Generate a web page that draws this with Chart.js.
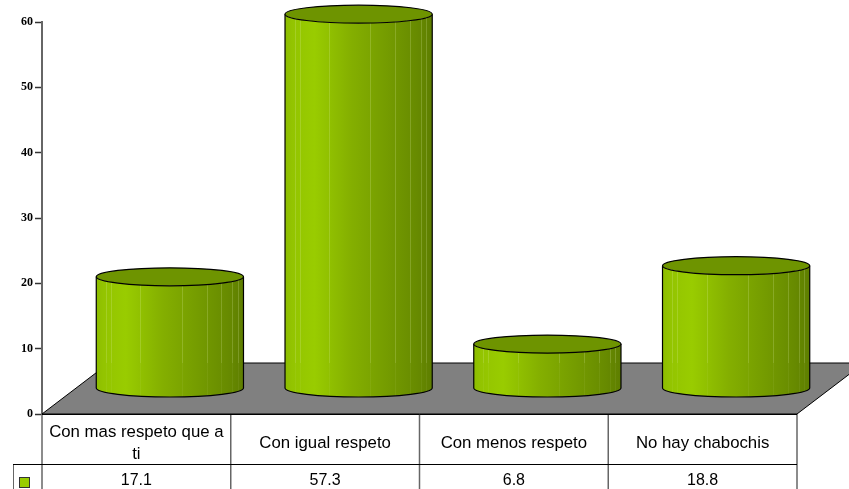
<!DOCTYPE html>
<html>
<head>
<meta charset="utf-8">
<style>html,body{margin:0;padding:0;background:#fff;overflow:hidden}canvas{display:block}</style>
<script src="https://cdn.jsdelivr.net/npm/chart.js@4"></script>
</head>
<body>
<canvas id="c" width="849" height="489"></canvas>
<script>
const categories = [["Con mas respeto que a", "ti"], "Con igual respeto", "Con menos respeto", "No hay chabochis"];
const values = [17.1, 57.3, 6.8, 18.8];
const yTicks = [0, 10, 20, 30, 40, 50, 60];

const depthX = 67, depthY = -51, ellipseRy = 9;
const bandStops = [[0,'#8DBD00'],[0.05,'#93C400'],[0.2,'#99CC00'],[0.45,'#84AF00'],[0.7,'#749B00'],[0.9,'#678A00'],[1,'#5E7E00']];
const streaks = [0.066, 0.1, 0.3, 0.58, 0.75, 0.85, 0.925, 0.96];

const scene = {
  id: 'scene',
  beforeDatasetsDraw(chart) {
    const {ctx, chartArea: a} = chart;
    ctx.save();
    ctx.beginPath();
    ctx.moveTo(a.left, a.bottom);
    ctx.lineTo(a.right, a.bottom);
    ctx.lineTo(a.right + depthX, a.bottom + depthY);
    ctx.lineTo(a.left + depthX, a.bottom + depthY);
    ctx.closePath();
    ctx.fillStyle = '#808080';
    ctx.fill();
    ctx.strokeStyle = '#000';
    ctx.lineWidth = 1;
    ctx.stroke();
    ctx.restore();
  },
  afterDatasetsDraw(chart) {
    const {ctx, chartArea: a} = chart;
    const bars = chart.getDatasetMeta(0).data;
    const floorBack = a.bottom + depthY;
    bars.forEach(bar => {
      const cx = bar.x + depthX / 2, r = bar.width / 2;
      const top = bar.y + depthY / 2, base = bar.base + depthY / 2;
      const L = cx - r;
      ctx.save();
      const g = ctx.createLinearGradient(L, 0, cx + r, 0);
      bandStops.forEach(s => g.addColorStop(s[0], s[1]));
      ctx.beginPath();
      ctx.moveTo(L, top);
      ctx.lineTo(L, base);
      ctx.ellipse(cx, base, r, ellipseRy, 0, Math.PI, 0, true);
      ctx.lineTo(cx + r, top);
      ctx.ellipse(cx, top, r, ellipseRy, 0, 0, Math.PI, false);
      ctx.closePath();
      ctx.fillStyle = g;
      ctx.fill();
      ctx.lineWidth = 1;
      streaks.forEach(f => {
        const x = Math.round(L + f * 2 * r) + 0.5;
        const dy = Math.sqrt(Math.max(0, 1 - Math.pow((x - cx) / r, 2))) * ellipseRy;
        ctx.strokeStyle = 'rgba(225,240,170,0.22)';
        ctx.beginPath();
        ctx.moveTo(x, top + dy);
        ctx.lineTo(x, Math.max(top + dy, floorBack));
        ctx.stroke();
        ctx.strokeStyle = 'rgba(225,240,170,0.07)';
        ctx.beginPath();
        ctx.moveTo(x, Math.max(top + dy, floorBack));
        ctx.lineTo(x, base + dy);
        ctx.stroke();
      });
      ctx.strokeStyle = '#000';
      ctx.lineWidth = 1.2;
      ctx.beginPath();
      ctx.moveTo(L, top);
      ctx.lineTo(L, base);
      ctx.ellipse(cx, base, r, ellipseRy, 0, Math.PI, 0, true);
      ctx.lineTo(cx + r, top);
      ctx.stroke();
      ctx.beginPath();
      ctx.ellipse(cx, top, r, ellipseRy, 0, 0, Math.PI * 2);
      ctx.fillStyle = '#6E9400';
      ctx.fill();
      ctx.stroke();
      ctx.restore();
    });
    drawTable(chart);
  }
};

function drawTable(chart) {
  const {ctx, chartArea: a, scales: {x}} = chart;
  const rowY = a.bottom + 50, end = chart.height;
  const step = (a.right - a.left) / categories.length;
  ctx.save();
  ctx.strokeStyle = '#666';
  ctx.lineWidth = 1.5;
  for (let i = 0; i <= categories.length; i++) {
    const lx = a.left + i * step;
    ctx.beginPath(); ctx.moveTo(lx, a.bottom); ctx.lineTo(lx, end); ctx.stroke();
  }
  ctx.beginPath(); ctx.moveTo(13.5, rowY); ctx.lineTo(13.5, end); ctx.lineWidth = 1; ctx.stroke();
  ctx.strokeStyle = '#000';
  ctx.beginPath(); ctx.moveTo(13, rowY + 0.5); ctx.lineTo(a.right, rowY + 0.5); ctx.stroke();
  ctx.beginPath(); ctx.moveTo(a.left, a.bottom + 0.5); ctx.lineTo(a.right, a.bottom + 0.5); ctx.stroke();
  ctx.fillStyle = '#99CC00';
  ctx.fillRect(19.5, 477.5, 10, 10);
  ctx.strokeStyle = '#333';
  ctx.strokeRect(19.5, 477.5, 10, 10);
  ctx.fillStyle = '#000';
  ctx.font = '16px "Liberation Sans"';
  ctx.textAlign = 'center';
  ctx.textBaseline = 'middle';
  values.forEach((v, i) => ctx.fillText(v.toFixed(1), x.getPixelForTick(i), rowY + 17));
  ctx.restore();
}

new Chart(document.getElementById('c'), {
  type: 'bar',
  data: {
    labels: categories,
    datasets: [{
      data: values,
      backgroundColor: 'rgba(0,0,0,0)',
      borderWidth: 0,
      categoryPercentage: 1,
      barPercentage: 0.78
    }]
  },
  options: {
    responsive: false,
    animation: false,
    layout: {padding: {top: 22, right: 52, left: 0, bottom: 0}},
    plugins: {legend: {display: false}, title: {display: false}, tooltip: {enabled: false}},
    scales: {
      x: {
        position: 'bottom',
        grid: {display: false, drawTicks: false},
        border: {display: false},
        ticks: {
          autoSkip: false, maxRotation: 0, minRotation: 0,
          color: '#000', padding: 18, crossAlign: 'center',
          font: {family: '"Liberation Sans"', size: 16.8, lineHeight: 1.31}
        },
        afterFit(s) { s.height = 75; }
      },
      y: {
        min: 0, max: 60,
        afterBuildTicks(s) { s.ticks = yTicks.map(v => ({value: v})); },
        grid: {display: true, drawOnChartArea: false, drawTicks: true, tickLength: 7, color: '#333', tickColor: '#333', tickWidth: 1.5},
        border: {display: true, color: '#666', width: 2},
        ticks: {
          color: '#000', padding: 2,
          font: {family: '"Liberation Serif"', size: 12, weight: 'bold'}
        },
        afterFit(s) { s.width = 42; s.paddingTop = 0; s.paddingBottom = 0; }
      }
    }
  },
  plugins: [scene]
});
</script>
</body>
</html>
